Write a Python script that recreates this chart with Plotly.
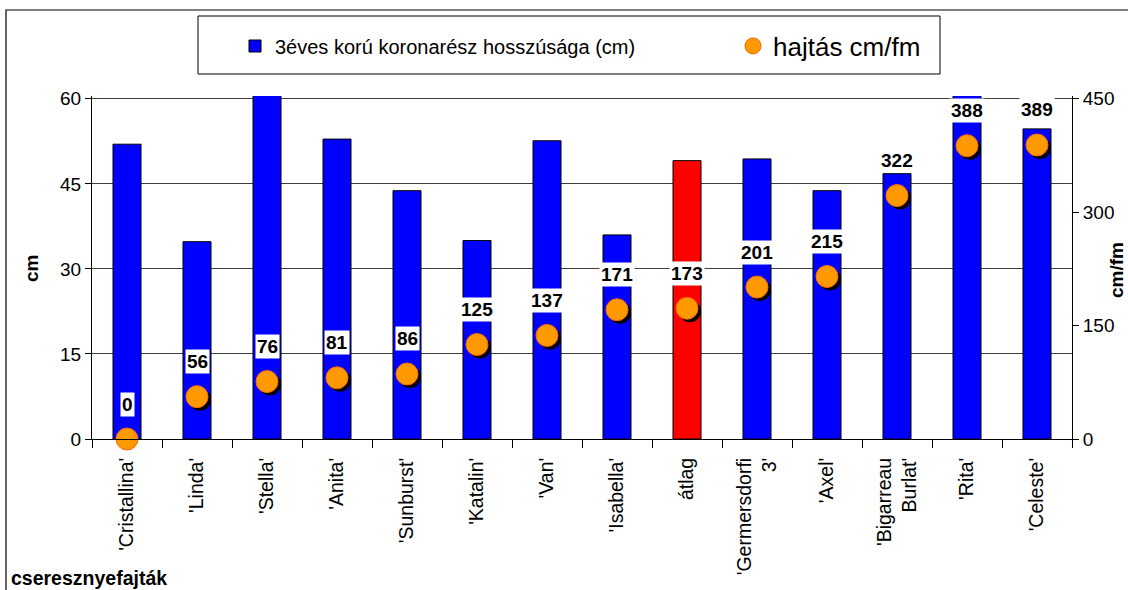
import plotly.graph_objects as go

categories = ["'Cristallina'", "'Linda'", "'Stella'", "'Anita'", "'Sunburst'", "'Katalin'", "'Van'",
              "'Isabella'", "átlag", "'Germersdorfi<br>3'", "'Axel'", "'Bigarreau<br>Burlat'", "'Rita'", "'Celeste'"]
crown_cm = [52.0, 34.8, 64.0, 52.9, 43.8, 35.0, 52.6, 36.0, 49.1, 49.4, 43.8, 46.8, 63.0, 54.7]
shoot_cm_fm = [0, 56, 76, 81, 86, 125, 137, 171, 173, 201, 215, 322, 388, 389]
bar_colors = ["#0000FF"] * 8 + ["#FF0000"] + ["#0000FF"] * 5

W, H = 1128, 590
L, R, T, B = 92, 56, 96, 151
pw, ph = W - L - R, H - T - B
n = len(categories)
xs = list(range(n))
y2max = 453.75
# pixel -> data offsets for the shadow
dx = 3 / (pw / n)
dy = 3 * y2max / ph

FONT = "Arial, Liberation Sans, sans-serif"


def px_x(p):
    return (p - L) / pw


def px_y(p):
    return (H - B - p) / ph


fig = go.Figure()
fig.add_trace(go.Bar(x=xs, y=crown_cm, width=0.4, marker=dict(color=bar_colors, line=dict(color="black", width=1)),
                     name="3éves korú koronarész hosszúsága (cm)", yaxis="y", legend="legend"))
fig.add_trace(go.Scatter(x=[v + dx for v in xs], y=[v - dy for v in shoot_cm_fm], mode="markers",
                         marker=dict(size=22, color="black"), showlegend=False, hoverinfo="skip",
                         yaxis="y2", cliponaxis=False))
fig.add_trace(go.Scatter(x=xs, y=shoot_cm_fm, mode="markers",
                         marker=dict(size=22, color="#FF9900", line=dict(color="#FF6600", width=1)),
                         name="hajtás cm/fm", yaxis="y2", cliponaxis=False, legend="legend2"))

annotations = []
for xi, v in zip(xs, shoot_cm_fm):
    annotations.append(dict(x=xi, y=v, xref="x", yref="y2", text=f"<b>{v}</b>", showarrow=False,
                            yshift=35, bgcolor="white", borderpad=1,
                            font=dict(family=FONT, size=19, color="black")))
annotations += [
    dict(x=px_x(9), y=px_y(578), xref="paper", yref="paper", xanchor="left", yanchor="middle",
         text="<b>cseresznyefajták</b>", showarrow=False, font=dict(family=FONT, size=19.5, color="black")),
    dict(x=px_x(31), y=px_y(269), xref="paper", yref="paper", xanchor="center", yanchor="middle",
         text="<b>cm</b>", textangle=-90, showarrow=False, font=dict(family=FONT, size=19, color="black")),
    dict(x=px_x(1116), y=px_y(270), xref="paper", yref="paper", xanchor="center", yanchor="middle",
         text="<b>cm/fm</b>", textangle=-90, showarrow=False, font=dict(family=FONT, size=19, color="black")),
]

shapes = [
    dict(type="rect", xref="paper", yref="paper", x0=px_x(6), x1=px_x(1132),
         y0=px_y(594), y1=px_y(10), line=dict(color="black", width=1.2), layer="below"),
    dict(type="rect", xref="paper", yref="paper", x0=px_x(198), x1=px_x(940),
         y0=px_y(74), y1=px_y(16), line=dict(color="black", width=1), fillcolor="white",
         layer="below"),
]

fig.update_layout(
    width=W, height=H, margin=dict(l=L, r=R, t=T, b=B, autoexpand=False),
    paper_bgcolor="white", plot_bgcolor="white",
    font=dict(family=FONT, size=16, color="black"),
    xaxis=dict(range=[-0.5, n - 0.5], tickmode="array", tickvals=xs, ticktext=categories, tickangle=-90,
               ticks="", showgrid=False, showline=True, linecolor="black", linewidth=1, zeroline=False,
               tickfont=dict(size=19.5), ticklabelstandoff=10, automargin=False,
               minor=dict(tickmode="array", tickvals=[i - 0.5 for i in range(n + 1)], ticks="outside",
                          ticklen=8, tickcolor="black", showgrid=False)),
    yaxis=dict(range=[0, 60.5], tickvals=[0, 15, 30, 45, 60], showgrid=True, gridcolor="#404040", gridwidth=1,
               showline=True, linecolor="black", linewidth=1, ticks="outside", ticklen=6, tickcolor="black",
               zeroline=False, tickfont=dict(size=19), automargin=False),
    yaxis2=dict(range=[0, y2max], tickvals=[0, 150, 300, 450], overlaying="y", side="right", showgrid=False,
                showline=True, linecolor="black", linewidth=1, ticks="outside", ticklen=6, tickcolor="black",
                zeroline=False, tickfont=dict(size=19), automargin=False),
    legend=dict(orientation="h", x=px_x(235), y=px_y(46), xanchor="left", yanchor="middle",
                bgcolor="rgba(0,0,0,0)", borderwidth=0, font=dict(size=20, family=FONT)),
    legend2=dict(orientation="h", x=px_x(733), y=px_y(46), xanchor="left", yanchor="middle",
                 bgcolor="rgba(0,0,0,0)", borderwidth=0, font=dict(size=26, family=FONT)),
    annotations=annotations, shapes=shapes, bargap=0.6,
)

fig.write_html("out.html", config={"displayModeBar": False},
               post_script="document.body.style.margin='0px';")
